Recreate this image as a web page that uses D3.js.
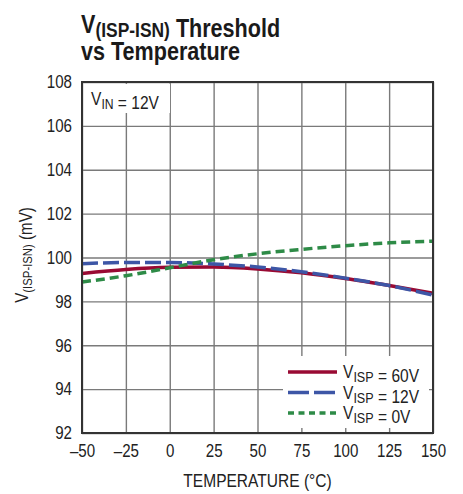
<!DOCTYPE html>
<html>
<head>
<meta charset="utf-8">
<script src="https://cdn.jsdelivr.net/npm/d3@7"></script>
<style>
	body { margin: 0; background: #fff; }
	svg { display: block; font-family: "Liberation Sans", Arial, sans-serif; }
	.grid line { stroke: #7a7a7a; stroke-width: 1.4; }
	.grid path { display: none; }
	.lbl text { font-size: 18px; fill: #222; font-family: "Liberation Sans", Arial, sans-serif; }
	.lbl path, .lbl line { display: none; }
</style>
</head>
<body>
<svg width="463" height="494"></svg>
<script>
// readings (mV)
const temps = [-50, -25, 0, 25, 50, 75, 100, 125, 150]
const v60 = [99.27, 99.45, 99.55, 99.57, 99.48, 99.30, 99.04, 98.72, 98.37]
const v12 = [99.72, 99.77, 99.77, 99.70, 99.57, 99.35, 99.06, 98.72, 98.29]
const v0 = [98.88, 99.17, 99.53, 99.90, 100.17, 100.37, 100.54, 100.67, 100.74]

const xTicks = [-50, -25, 0, 25, 50, 75, 100, 125, 150]
const yTicks = [92, 94, 96, 98, 100, 102, 104, 106, 108]

const series = [
	{ name: '60V', values: v60, color: '#990a33', dash: null },
	{ name: '12V', values: v12, color: '#3d56a6', dash: '16,5' },
	{ name: '0V', values: v0, color: '#2e8b47', dash: '9,5' }
]

const svg = d3.select('svg')
const L = 82, T = 82, W = 351, H = 351
const SX = 0.84 // squeeze Liberation Sans to look like a condensed face

let x = d3.scaleLinear().domain([-50, 150]).range([L, L + W])
let y = d3.scaleLinear().domain([92, 108]).range([T + H, T])

// grid
svg.append('g')
	.attr('class', 'grid')
	.attr('transform', `translate(0, ${T + H})`)
	.call(d3.axisBottom(x).tickValues(xTicks).tickSize(-H).tickFormat(''))
svg.append('g')
	.attr('class', 'grid')
	.attr('transform', `translate(${L}, 0)`)
	.call(d3.axisLeft(y).tickValues(yTicks).tickSize(-W).tickFormat(''))

// white box behind V_IN note
svg.append('rect')
	.attr('x', L + 2).attr('y', T + 2)
	.attr('width', 86).attr('height', 29)
	.attr('fill', '#fff')

// curves
let line = d3.line()
	.x((d, i) => x(temps[i]))
	.y(d => y(d))
	.curve(d3.curveMonotoneX)

svg.append('g').selectAll('path')
	.data(series)
	.enter()
	.append('path')
	.attr('d', d => line(d.values))
	.attr('fill', 'none')
	.attr('stroke', d => d.color)
	.attr('stroke-width', 3.5)
	.attr('stroke-dasharray', d => d.dash)

// frame
svg.append('rect')
	.attr('x', L).attr('y', T)
	.attr('width', W).attr('height', H)
	.attr('fill', 'none')
	.attr('stroke', '#333')
	.attr('stroke-width', 2)

// tick labels
let yl = svg.append('g')
	.attr('class', 'lbl')
	.attr('transform', `translate(${L}, 0)`)
	.call(d3.axisLeft(y).tickValues(yTicks).tickSize(0).tickPadding(10))
yl.selectAll('text')
	.attr('x', -10 / SX)
	.attr('transform', `scale(${SX},1)`)
let xl = svg.append('g')
	.attr('class', 'lbl')
	.attr('transform', `translate(0, ${T + H})`)
	.call(d3.axisBottom(x).tickValues(xTicks).tickSize(0).tickPadding(11)
		.tickFormat(d => d < 0 ? '–' + Math.abs(d) : d))
xl.selectAll('text')
	.attr('transform', `scale(${SX},1)`)

// squeezed text helper; parts are strings or {lo, size, shift} subscripts
function label(px, py, size, parts, opts = {}) {
	let g = svg.append('g')
		.attr('transform', `translate(${px}, ${py})` + (opts.rotate ? ` rotate(${opts.rotate})` : '') + ` scale(${opts.sx || SX},1)`)
	let t = g.append('text')
		.attr('font-size', size)
		.attr('fill', opts.fill || '#222')
		.attr('font-weight', opts.bold ? 'bold' : null)
		.attr('text-anchor', opts.anchor || 'start')
	parts.forEach(p => {
		if (typeof p === 'string') {
			t.append('tspan').text(p)
		} else {
			t.append('tspan').attr('font-size', p.size).attr('dy', p.shift).text(p.lo)
			t.append('tspan').attr('dy', -p.shift).text('')
		}
	})
	return g
}

// V_IN note
label(91, 105, 18.5, ['V', { lo: 'IN', size: 14.5, shift: 4 }, ' = 12V'])

// legend
svg.append('rect')
	.attr('x', 283).attr('y', 356)
	.attr('width', 146).attr('height', 72)
	.attr('fill', '#fff')
series.forEach((s, i) => {
	let ly = 372 + i * 20.5
	svg.append('line')
		.attr('x1', 288).attr('x2', 337)
		.attr('y1', ly).attr('y2', ly)
		.attr('stroke', s.color)
		.attr('stroke-width', 3.5)
		.attr('stroke-dasharray', i == 1 ? '21,5' : (i == 2 ? '6,4.5' : null))
	label(343, ly + 6, 18.5, ['V', { lo: 'ISP', size: 15, shift: 4 }, ' = ' + s.name])
})

// axis titles
label(L + W / 2, 487, 18.5, ['TEMPERATURE (°C)'], { anchor: 'middle' })
label(28, 255, 18, ['V', { lo: '(ISP-ISN)', size: 13.5, shift: 4 }, ' (mV)'], { anchor: 'middle', rotate: -90 })

// title
label(81, 33, 26, ['V', { lo: '(ISP-ISN)', size: 21, shift: 3.5 }, ' Threshold'], { bold: true, fill: '#1a1a1a', sx: 0.83 })
label(81, 60, 26, ['vs Temperature'], { bold: true, fill: '#1a1a1a', sx: 0.83 })
</script>
</body>
</html>
